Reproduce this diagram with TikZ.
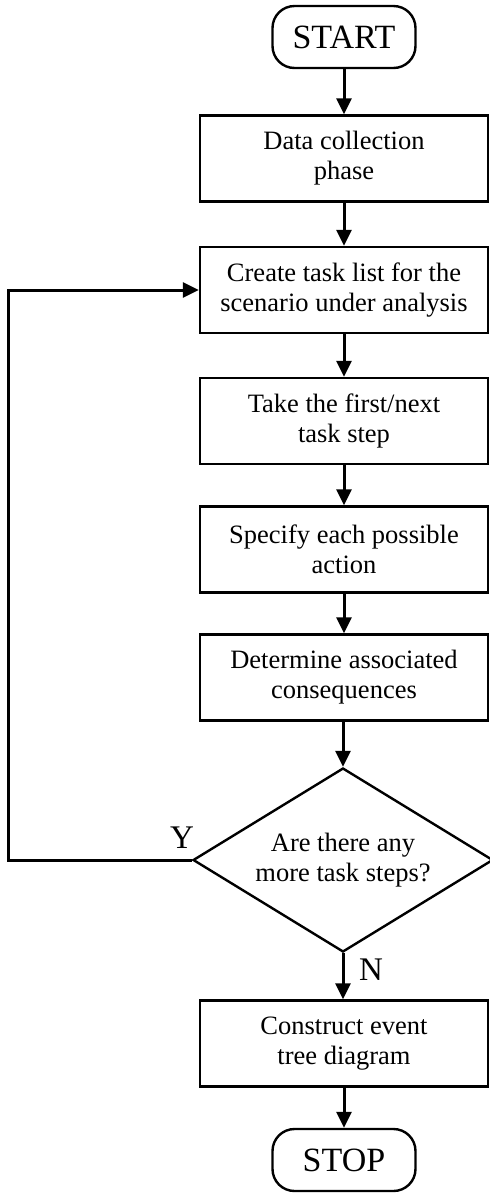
\documentclass[tikz,border=0pt]{standalone}
\usepackage{fontspec}
\setmainfont{Liberation Serif}
\usetikzlibrary{shapes.geometric,arrows.meta}

\tikzset{
  base/.style={draw=black, line width=2.4pt, inner sep=0pt, align=center},
  term/.style={base, rectangle, rounded corners=22pt, minimum width=143pt,
    minimum height=62pt, font=\fontsize{34}{37}\selectfont},
  proc/.style={base, rectangle, minimum width=288pt, minimum height=86pt,
    font=\fontsize{26.5}{30}\selectfont},
  dec/.style={base, diamond, aspect=1.63, minimum width=300pt, minimum height=184pt,
    font=\fontsize{26.5}{30}\selectfont},
  lbl/.style={inner sep=0pt, font=\fontsize{33}{36}\selectfont},
  flow/.style={line width=3pt, line join=miter,
    -{Triangle[width=15pt,length=16pt]}}
}

\begin{document}
\begin{tikzpicture}[x=1pt, y=-1pt]
  \useasboundingbox (0,0) rectangle (490,1195);

  % main column
  \node[term] (start) at (344,37) {START};
  \node[proc] (data) at (344,158.5) {Data collection\\phase};
  \node[proc] (list) at (344,290) {Create task list for the\\scenario under analysis};
  \node[proc] (take) at (344,421) {Take the first/next\\task step};
  \node[proc] (spec) at (344,549.5) {Specify each possible\\action};
  \node[proc] (cons) at (344,677.5) {Determine associated\\consequences};
  \node[dec]  (more) at (343,860) {Are there any\\more task steps?};
  \node[proc] (tree) at (344,1043.5) {Construct event\\tree diagram};
  \node[term] (stop) at (344,1160) {STOP};

  % branch labels
  \node[lbl] (yes) at (182,838) {Y};
  \node[lbl] (no) at (371,970) {N};

  % return path of the loop
  \coordinate (back) at (8,860);

  % connectors
  \draw[flow] (start) -- (data);
  \draw[flow] (data) -- (list);
  \draw[flow] (list) -- (take);
  \draw[flow] (take) -- (spec);
  \draw[flow] (spec) -- (cons);
  \draw[flow] (cons.south -| more.north) -- (more.north);
  \draw[flow] (more.south) -- (more.south |- tree.north);
  \draw[flow] (tree) -- (stop);
  \draw[flow] (more.west) -- (back) |- (list.west);
\end{tikzpicture}
\end{document}
